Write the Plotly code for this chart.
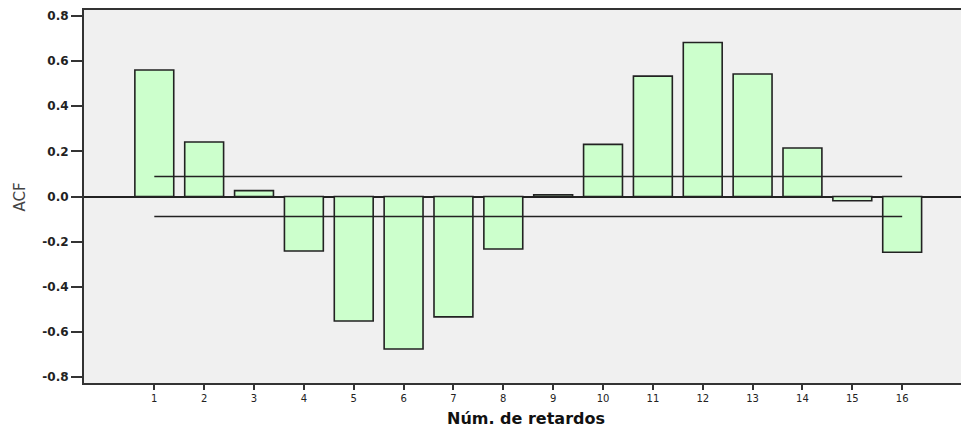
import plotly.graph_objects as go

lags = list(range(1, 17))
acf = [0.561, 0.242, 0.026, -0.242, -0.552, -0.676, -0.534, -0.233,
       0.008, 0.231, 0.534, 0.683, 0.543, 0.215, -0.019, -0.247]
upper_conf = [0.089] * 16
lower_conf = [-0.089] * 16
y_ticks = [-0.8, -0.6, -0.4, -0.2, 0.0, 0.2, 0.4, 0.6, 0.8]

fig = go.Figure()
fig.add_trace(go.Bar(
    x=lags, y=acf, width=0.78,
    marker=dict(color="#ccffcc", line=dict(color="#222222", width=1.6)),
    showlegend=False,
))
fig.add_trace(go.Scatter(x=lags, y=upper_conf, mode="lines",
                         line=dict(color="#222222", width=1.5), showlegend=False))
fig.add_trace(go.Scatter(x=lags, y=lower_conf, mode="lines",
                         line=dict(color="#222222", width=1.5), showlegend=False))

fig.update_layout(
    width=961, height=429,
    margin=dict(l=84, r=0, t=10, b=46),
    paper_bgcolor="white",
    plot_bgcolor="#f0f0f0",
    font=dict(family="DejaVu Sans, Arial, sans-serif", color="#222222"),
    xaxis=dict(
        range=[-0.41, 17.18],
        tickmode="array", tickvals=lags, ticktext=[str(v) for v in lags],
        ticks="outside", ticklen=5, tickwidth=1.5, tickcolor="#333333",
        showline=True, linecolor="#333333", linewidth=2, mirror=True,
        showgrid=False, zeroline=False,
        tickfont=dict(size=10, color="#222222"),
    ),
    yaxis=dict(
        range=[-0.827, 0.827],
        tickmode="array", tickvals=y_ticks,
        ticktext=[f"{v:.1f}" for v in y_ticks],
        ticks="outside", ticklen=11, tickwidth=1.5, tickcolor="#333333",
        showline=True, linecolor="#333333", linewidth=2, mirror=False,
        showgrid=False,
        zeroline=True, zerolinecolor="#222222", zerolinewidth=1.6,
        tickfont=dict(size=12, color="#222222", weight="bold"),
    ),
    annotations=[
        dict(text="Núm. de retardos", xref="paper", yref="paper",
             x=0.504, y=-0.094, xanchor="center", yanchor="middle",
             showarrow=False, font=dict(size=16, weight="bold", color="#111111")),
        dict(text="ACF", xref="paper", yref="paper",
             x=-0.073, y=0.5, xanchor="center", yanchor="middle",
             textangle=-90, showarrow=False,
             font=dict(size=15, color="#444444")),
    ],
)

fig.write_html("out.html")
